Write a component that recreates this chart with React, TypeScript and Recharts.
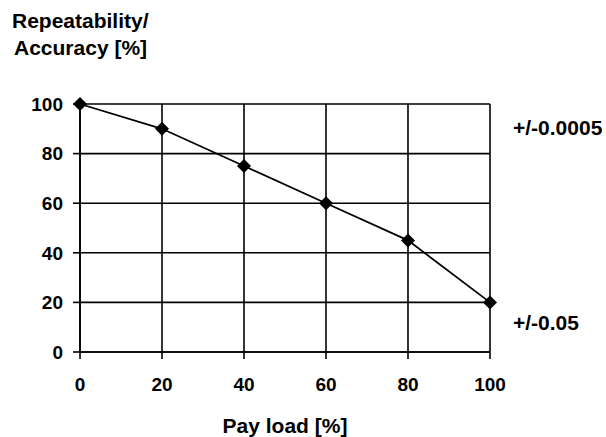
import { LineChart, Line, XAxis, YAxis, CartesianGrid } from 'recharts'

const payLoad = [0, 20, 40, 60, 80, 100]
const accuracy = [100, 90, 75, 60, 45, 20]
const xTicks = [0, 20, 40, 60, 80, 100]
const yTicks = [0, 20, 40, 60, 80, 100]
const titleLines = ['Repeatability/', 'Accuracy [%]']
const sideNotes = ['+/-0.0005', '+/-0.05']

const data = payLoad.map((p, i) => ({ payLoad: p, accuracy: accuracy[i] }))

const font = "'Liberation Sans', Arial, sans-serif"
const tickStyle = { fill: '#000', fontSize: 19, fontWeight: 700, fontFamily: font }

function Diamond(props: any) {
  const { cx, cy } = props
  if (cx == null || cy == null) return null
  const r = 7
  return (
    <polygon
      points={`${cx},${cy - r} ${cx + r},${cy} ${cx},${cy + r} ${cx - r},${cy}`}
      fill="#000"
    />
  )
}

export default function App() {
  return (
    <div style={{ position: 'absolute', left: 0, top: 0, width: 606, height: 437, background: '#fff' }}>
      <LineChart
        width={606}
        height={437}
        data={data}
        margin={{ top: 104, right: 116, bottom: 0, left: 0 }}
      >
        <CartesianGrid stroke="#000" strokeWidth={1.6} />
        <XAxis
          dataKey="payLoad"
          type="number"
          domain={[0, 100]}
          ticks={xTicks}
          height={85}
          tickSize={7}
          tickMargin={19}
          stroke="#000"
          strokeWidth={1.6}
          tick={tickStyle}
          label={{
            value: 'Pay load [%]',
            position: 'insideBottom',
            offset: 4,
            style: { ...tickStyle, fontSize: 21 },
          }}
        />
        <YAxis
          type="number"
          domain={[0, 100]}
          ticks={yTicks}
          width={80}
          tickSize={7}
          tickMargin={10}
          stroke="#000"
          strokeWidth={1.6}
          tick={tickStyle}
        />
        <Line
          dataKey="accuracy"
          stroke="#000"
          strokeWidth={1.8}
          dot={<Diamond />}
          isAnimationActive={false}
        />
      </LineChart>
      <svg
        width={606}
        height={437}
        style={{ position: 'absolute', left: 0, top: 0, pointerEvents: 'none' }}
      >
        <g fontFamily={font} fontWeight={700} fontSize={21} fill="#000">
          <text x={12} y={28}>{titleLines[0]}</text>
          <text x={14} y={55}>{titleLines[1]}</text>
          <text x={513} y={135}>{sideNotes[0]}</text>
          <text x={513} y={330}>{sideNotes[1]}</text>
        </g>
      </svg>
    </div>
  )
}
